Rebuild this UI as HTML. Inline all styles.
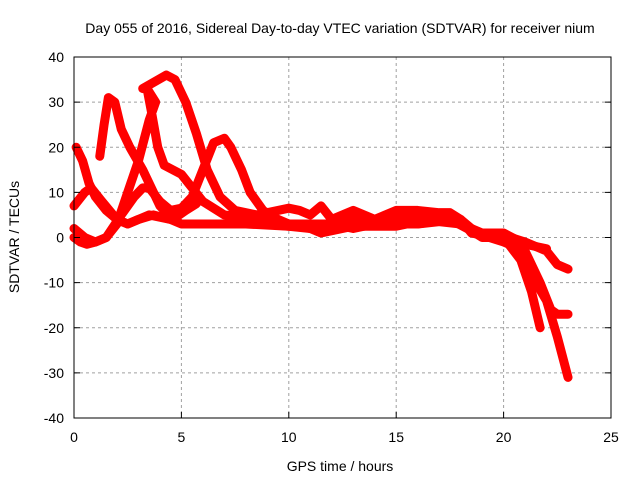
<!DOCTYPE html>
<html><head><meta charset="utf-8"><style>
body{margin:0;background:#fff;font-family:"Liberation Sans",sans-serif;}
svg text{font-family:"Liberation Sans",sans-serif;font-size:14px;fill:#000}
</style></head><body>
<svg id="chart" width="640" height="480">
<text x="340" y="33" text-anchor="middle">Day 055 of 2016, Sidereal Day-to-day VTEC variation (SDTVAR) for receiver nium</text>
<g id="grid"></g><g id="series"></g><g id="axes"></g>
<text x="340" y="471" text-anchor="middle">GPS time / hours</text>
<text x="0" y="0" transform="translate(19,237) rotate(-90)" text-anchor="middle">SDTVAR / TECUs</text>
</svg>
<script>
const xTicks=[0,5,10,15,20,25];
const yTicks=[-40,-30,-20,-10,0,10,20,30,40];
const seriesA=[[0.1,20],[0.4,17],[0.7,12],[1,9],[1.5,6],[2,4],[2.5,3],[3.5,5],[4.5,4],[5,3],[6,3],[8,3],[10,2.5],[12,2],[14,3],[16,3],[17.5,4],[18.3,2],[19,0.5],[20,0.5],[21,-1],[22,-3],[22.5,-6],[23,-7]];
const seriesB=[[1.2,18],[1.4,25],[1.6,31],[1.9,30],[2.2,24],[2.6,20],[3.2,15],[4,7],[4.6,4],[5.2,6],[5.7,7.5]];
const seriesC=[[0,7],[0.5,10],[0.8,11],[1.3,8],[2,4],[2.5,3],[3,4],[3.7,5],[4.5,4],[5.2,7]];
const seriesD=[[0,0],[0.3,-1],[0.6,-1.5],[1,-1],[1.5,0],[2,3],[2.5,10],[3,17],[3.5,26],[3.8,30],[3.4,33],[3.6,28],[3.9,20],[4.2,16],[5,14],[5.5,11],[6,8],[7,5],[8,4.5],[10,3],[11,2],[12,2.5],[13,4],[14,4],[15,5],[16,5],[17,5],[18,4],[18.5,1],[19,0.5],[20,0],[21,-3],[21.7,-10],[22.2,-16],[22.5,-17],[23,-17]];
const seriesE=[[0,2],[0.5,0],[1,-1],[1.5,0],[2.2,5],[2.8,9],[3.2,11],[3.5,11],[4,8],[4.5,6],[5,6.5],[5.5,9],[6,15],[6.5,21],[7,22],[7.3,20],[7.8,15],[8.2,10],[8.8,6],[9.5,4],[10,3],[11,3],[12,3],[13,2],[14,3],[15,3],[16,3],[17,3.5],[18,3],[19,0],[20,0],[20.8,-5],[21.3,-12],[21.7,-20]];
const seriesF=[[3.2,33],[4.3,36],[4.7,35],[5.2,30],[5.7,23],[6.2,15],[6.8,9],[7.5,6],[8.5,5],[9.5,6],[10,6.5],[10.5,6],[11,5],[11.5,7],[12,4],[13,6],[14,4],[15,6],[16,6],[17,5.5],[17.5,5.5],[18,4],[18.5,2],[19,0.5],[20,-1],[20.5,-2],[21.5,-10],[22,-14],[22.5,-22],[23,-31]];
const seriesG=[[8,4],[9,3],[10,2.5],[11,2],[11.5,1],[12,1.5],[13,2.5],[14,2.5],[15,2.5],[16,3.5],[17,4],[17.5,4.5],[18,3],[19,1],[20,1],[21,-1.5],[22,-2.5]];
const allSeries=[seriesA,seriesB,seriesC,seriesD,seriesE,seriesF,seriesG];
const names=['series-a','series-b','series-c','series-d','series-e','series-f','series-g'];
const L=74,R=611,T=57,B=418;
function xs(h){return L+(h-0)/(25-0)*(R-L);}
function ys(v){return B-(v+40)/80*(B-T);}
const NS='http://www.w3.org/2000/svg';
const grid=document.getElementById('grid'),axes=document.getElementById('axes'),ser=document.getElementById('series');
function mk(tag,attrs,parent){const e=document.createElementNS(NS,tag);for(const k in attrs)e.setAttribute(k,attrs[k]);parent.appendChild(e);return e;}
xTicks.forEach(t=>{
 if(t>0&&t<25){const g=mk('line',{x1:xs(t),x2:xs(t),y1:T,y2:B,stroke:'#a0a0a0','stroke-dasharray':'3,3'},grid);
 
 }
 const tk=mk('line',{x1:xs(t),x2:xs(t),y1:B,y2:B-6,stroke:'#000'},axes);
 
 
 const tx=mk('text',{x:xs(t),y:B+24,'text-anchor':'middle'},axes);tx.textContent=t;
 
 
});
yTicks.forEach(t=>{
 if(t>-40&&t<40){const g=mk('line',{x1:L,x2:R,y1:ys(t),y2:ys(t),stroke:'#a0a0a0','stroke-dasharray':'3,3'},grid);
 
 }
 const tk=mk('line',{x1:L,x2:L+6,y1:ys(t),y2:ys(t),stroke:'#000'},axes);
 
 
 const tk2=mk('line',{x1:R,x2:R-6,y1:ys(t),y2:ys(t),stroke:'#000'},axes);
 
 
 const tx=mk('text',{x:L-10,y:ys(t)+5,'text-anchor':'end'},axes);tx.textContent=t;
 
 
});
const fr=mk('rect',{x:L,y:T,width:R-L,height:B-T,fill:'none',stroke:'#000'},axes);


allSeries.forEach((s,i)=>{
 const p=mk('polyline',{points:s.map(d=>xs(d[0])+','+ys(d[1])).join(' '),fill:'none',stroke:'#ff0000','stroke-width':9,'stroke-linejoin':'round','stroke-linecap':'round'},ser);
 
 
});
</script>
</body></html>
